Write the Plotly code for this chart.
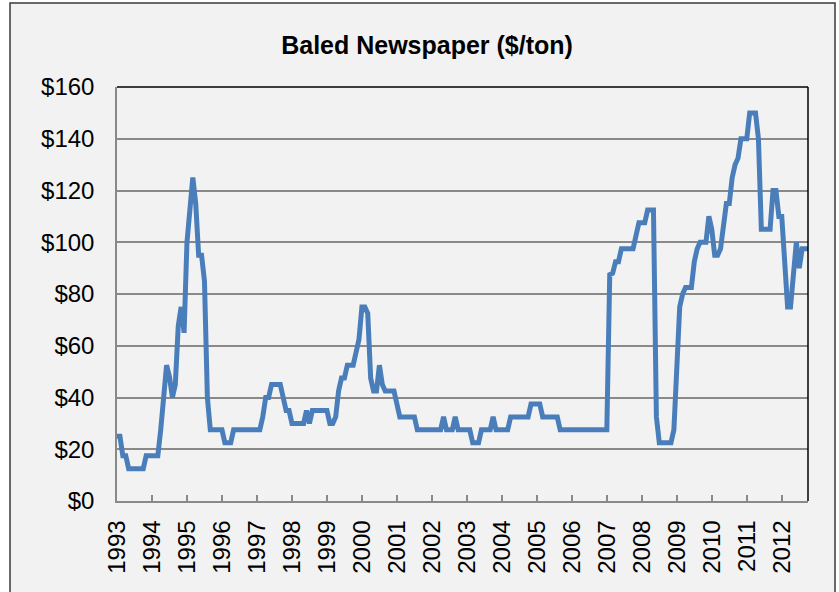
import plotly.graph_objects as go

years = list(range(1993, 2013))

v1993 = [25, 25, 17.5, 17.5, 12.5, 12.5, 12.5, 12.5, 12.5, 12.5, 17.5, 17.5]
v1994 = [17.5, 17.5, 17.5, 27.5, 40, 52.5, 48, 40, 45, 67.5, 75, 65]
v1995 = [100, 115, 125, 115, 95, 95, 85, 40, 27.5, 27.5, 27.5, 27.5]
v1996 = [27.5, 22.5, 22.5, 22.5, 27.5, 27.5, 27.5, 27.5, 27.5, 27.5, 27.5, 27.5]
v1997 = [27.5, 27.5, 32.5, 40, 40, 45, 45, 45, 45, 40, 35, 35]
v1998 = [30, 30, 30, 30, 30, 35, 30, 35, 35, 35, 35, 35]
v1999 = [35, 30, 30, 32.5, 42.5, 47.5, 47.5, 52.5, 52.5, 52.5, 57.5, 62.5]
v2000 = [75, 75, 72.5, 47.5, 42.5, 42.5, 52.5, 45, 42.5, 42.5, 42.5, 42.5]
v2001 = [37.5, 32.5, 32.5, 32.5, 32.5, 32.5, 32.5, 27.5, 27.5, 27.5, 27.5, 27.5]
v2002 = [27.5, 27.5, 27.5, 27.5, 32.5, 27.5, 27.5, 27.5, 32.5, 27.5, 27.5, 27.5]
v2003 = [27.5, 27.5, 22.5, 22.5, 22.5, 27.5, 27.5, 27.5, 27.5, 32.5, 27.5, 27.5]
v2004 = [27.5, 27.5, 27.5, 32.5, 32.5, 32.5, 32.5, 32.5, 32.5, 32.5, 37.5, 37.5]
v2005 = [37.5, 37.5, 32.5, 32.5, 32.5, 32.5, 32.5, 32.5, 27.5, 27.5, 27.5, 27.5]
v2006 = [27.5, 27.5, 27.5, 27.5, 27.5, 27.5, 27.5, 27.5, 27.5, 27.5, 27.5, 27.5]
v2007 = [27.5, 87.5, 88, 92.5, 92.5, 97.5, 97.5, 97.5, 97.5, 97.5, 102.5, 107.5]
v2008 = [107.5, 107.5, 112.5, 112.5, 112.5, 32.5, 22.5, 22.5, 22.5, 22.5, 22.5, 27.5]
v2009 = [50, 75, 80, 82.5, 82.5, 82.5, 92.5, 97.5, 100, 100, 100, 110]
v2010 = [105, 95, 95, 97.5, 105, 115, 115, 125, 130, 132.5, 140, 140]
v2011 = [140, 150, 150, 150, 140, 105, 105, 105, 105, 120, 120, 110]
v2012 = [110, 92.5, 75, 75, 87.5, 100, 90, 97.5, 97.5, 97.5]

prices = (v1993 + v1994 + v1995 + v1996 + v1997 + v1998 + v1999 + v2000 + v2001
          + v2002 + v2003 + v2004 + v2005 + v2006 + v2007 + v2008 + v2009 + v2010
          + v2011 + v2012)

month_labels = [f"{y}-{m:02d}" for y in years for m in range(1, 13)][:len(prices)]

y_ticks = [0, 20, 40, 60, 80, 100, 120, 140, 160]
y_tick_text = [f"${v}" for v in y_ticks]
x_tick_vals = [f"{y}-01" for y in years]
x_tick_text = [str(y) for y in years]

FONT = "Arial, Liberation Sans, sans-serif"
GRID = "#898989"

fig = go.Figure()
fig.add_trace(go.Scatter(
    x=month_labels, y=prices, mode="lines",
    line=dict(color="#4A7EBB", width=5),
    hoverinfo="x+y", showlegend=False,
))

W, H = 839, 592
L, R, T, B = 117, 31, 87, 91
pw, ph = W - L - R, H - T - B

def px_x(p):
    return (p - L) / pw

def px_y(p):
    return (H - B - p) / ph

fig.update_layout(
    width=W, height=H,
    margin=dict(l=L, r=R, t=T, b=B),
    paper_bgcolor="white",
    plot_bgcolor="#F2F2F2",
    font=dict(family=FONT, color="black"),
    title=dict(text="<b>Baled Newspaper ($/ton)</b>", x=0.509, xanchor="center",
               y=1 - 45 / H, yref="container", yanchor="middle",
               font=dict(size=25, family=FONT, color="black")),
    xaxis=dict(
        type="category", range=[0, len(prices) - 1],
        tickmode="array", tickvals=x_tick_vals, ticktext=x_tick_text,
        tickangle=-90, tickfont=dict(size=24, family=FONT, color="black"),
        ticks="inside", ticklen=6, tickcolor=GRID, tickwidth=1.5,
        showgrid=False, showline=True, linecolor=GRID, linewidth=1.5,
        zeroline=False, ticklabelstandoff=8,
    ),
    yaxis=dict(
        range=[0, 160], tickmode="array", tickvals=y_ticks, ticktext=y_tick_text,
        tickfont=dict(size=24, family=FONT, color="black"),
        showgrid=True, gridcolor=GRID, gridwidth=1.5,
        showline=True, linecolor=GRID, linewidth=1.5,
        zeroline=False, ticks="", ticklabelstandoff=16,
    ),
    shapes=[
        dict(type="rect", xref="paper", yref="paper",
             x0=px_x(10), x1=px_x(835), y0=px_y(620), y1=px_y(3),
             fillcolor="#F2F2F2", line=dict(color="#3A3A3A", width=1.5),
             layer="below"),
        dict(type="line", xref="paper", yref="paper", x0=0, x1=1, y0=1, y1=1,
             line=dict(color="black", width=1.5)),
        dict(type="line", xref="paper", yref="paper", x0=1, x1=1, y0=0, y1=1,
             line=dict(color="black", width=1.5)),
    ],
)

fig.write_html("out.html", config={"displayModeBar": False},
               post_script="document.body.style.margin='0';document.body.style.overflow='hidden';")
